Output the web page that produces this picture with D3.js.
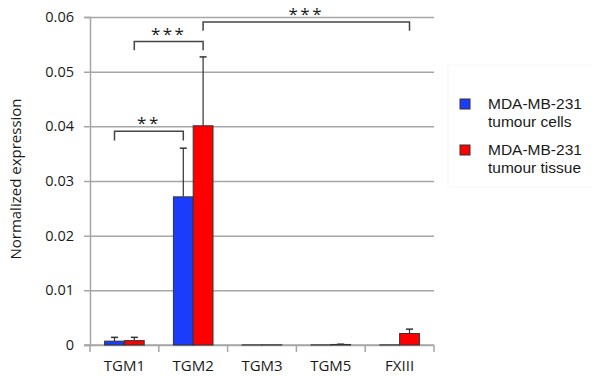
<!DOCTYPE html>
<html>
<head>
<meta charset="utf-8">
<script src="https://cdn.jsdelivr.net/npm/d3@7"></script>
<style>
  body { margin: 0; background: #fff; }
  text { font-family: "Open Sans", sans-serif; fill: #1a1a1a; }
</style>
</head>
<body>
<svg width="592" height="377"></svg>
<script>
let width = 592;
let height = 377;

// data
let categories = ['TGM1', 'TGM2', 'TGM3', 'TGM5', 'FXIII'];
let seriesNames = ['MDA-MB-231\ntumour cells', 'MDA-MB-231\ntumour tissue'];
let seriesColors = ['#1c3cfb', '#ff0000'];
let cellsMean = [0.0007, 0.0271, 0.00002, 0.00002, 0.00002];
let cellsErr = [0.0007, 0.0089, 0, 0, 0];
let tissueMean = [0.0008, 0.0401, 0.00003, 0.0001, 0.0021];
let tissueErr = [0.0006, 0.0126, 0, 0.00005, 0.0008];
let yTicks = [0, 0.01, 0.02, 0.03, 0.04, 0.05, 0.06];

// significance brackets: [category, series] -> [category, series], bracket level, leg bottom
let sigFrom = [[0, 0], [0, 1], [1, 1]];
let sigTo = [[1, 0], [1, 1], [4, 1]];
let sigTop = [0.0391, 0.0555, 0.0591];
let sigLeg = [0.0374, 0.0539, 0.0575];
let sigLabel = ['**', '***', '***'];

let margin = {left: 90, right: 158, top: 17, bottom: 32};

let svg = d3.select('svg');

let x = d3.scaleBand()
  .domain(categories)
  .range([margin.left, width - margin.right])
  .paddingInner(0)
  .paddingOuter(0);

let bw = 19.8;
let y = d3.scaleLinear()
  .domain([0, 0.06])
  .range([height - margin.bottom, margin.top]);

// grid + y axis
svg.append('g')
  .attr('transform', `translate(${margin.left},0)`)
  .call(d3.axisLeft(y).tickValues(yTicks).tickSize(6).tickFormat(d => d === 0 ? '0' : d3.format('.2f')(d)))
  .call(g => g.select('.domain').attr('stroke', '#a6a6a6').attr('stroke-width', 1.5))
  .call(g => g.selectAll('.tick line').attr('stroke', '#a6a6a6').attr('stroke-width', 1.5)
    .attr('x2', -6).attr('x1', width - margin.right - margin.left))
  .call(g => g.selectAll('.tick text').attr('x', -16).attr('font-size', 14.5)
    .style('font-family', '"Open Sans", sans-serif').attr('fill', '#1a1a1a'));

// x axis
svg.append('g')
  .attr('transform', `translate(0,${y(0)})`)
  .call(d3.axisBottom(x).tickSize(0).tickPadding(15))
  .call(g => g.select('.domain').remove())
  .call(g => g.selectAll('.tick text').attr('font-size', 15)
    .style('font-family', '"Open Sans", sans-serif').attr('fill', '#1a1a1a'));

svg.append('g')
  .selectAll('line')
  .data(categories.map(c => x(c)).concat([x.range()[1]]))
  .enter()
    .append('line')
    .attr('stroke', '#a6a6a6')
    .attr('stroke-width', 1.5)
    .attr('x1', d => d).attr('x2', d => d)
    .attr('y1', y(0)).attr('y2', y(0) + 7);

svg.append('line')
  .attr('stroke', '#a6a6a6')
  .attr('stroke-width', 1.5)
  .attr('x1', margin.left - 6).attr('x2', width - margin.right)
  .attr('y1', y(0)).attr('y2', y(0));

let means = [cellsMean, tissueMean];
let errs = [cellsErr, tissueErr];
let barX = (i, s) => x(categories[i]) + x.bandwidth() / 2 - bw + s * bw;

// error bars (upper only)
means.forEach((m, s) => {
  let g = svg.append('g');
  let pts = m.map((v, i) => ({i, v, e: errs[s][i]})).filter(d => d.e > 0);
  g.selectAll('line.err')
    .data(pts)
    .enter()
      .append('line')
      .attr('stroke', '#333')
      .attr('stroke-width', 1.2)
      .attr('x1', d => barX(d.i, s) + bw / 2).attr('x2', d => barX(d.i, s) + bw / 2)
      .attr('y1', d => y(d.v)).attr('y2', d => y(d.v + d.e));
  g.selectAll('line.cap')
    .data(pts)
    .enter()
      .append('line')
      .attr('stroke', '#333')
      .attr('stroke-width', 1.5)
      .attr('x1', d => barX(d.i, s) + bw / 2 - 3.5).attr('x2', d => barX(d.i, s) + bw / 2 + 3.5)
      .attr('y1', d => y(d.v + d.e)).attr('y2', d => y(d.v + d.e));
});

// bars
means.forEach((m, s) => {
  svg.append('g')
    .selectAll('rect')
    .data(m)
    .enter()
      .append('rect')
      .attr('fill', seriesColors[s])
      .attr('stroke', '#333')
      .attr('stroke-width', 1)
      .attr('x', (d, i) => barX(i, s))
      .attr('y', d => y(d))
      .attr('width', bw)
      .attr('height', d => y(0) - y(d));
});

// significance brackets
sigLabel.forEach((lab, k) => {
  let x1 = barX(sigFrom[k][0], sigFrom[k][1]) + bw / 2;
  let x2 = barX(sigTo[k][0], sigTo[k][1]) + bw / 2;
  svg.append('path')
    .attr('fill', 'none')
    .attr('stroke', '#444')
    .attr('stroke-width', 1.5)
    .attr('d', `M${x1},${y(sigLeg[k])}V${y(sigTop[k])}H${x2}V${y(sigLeg[k])}`);
  svg.append('text')
    .attr('x', (x1 + x2) / 2)
    .attr('y', y(sigTop[k]) - 2)
    .attr('text-anchor', 'middle')
    .attr('font-size', 17)
    .attr('letter-spacing', 2.5)
    .text(lab);
});

// y label
svg.append('text')
  .attr('transform', `translate(21,${y(0.03) - 2}) rotate(-90)`)
  .attr('text-anchor', 'middle')
  .attr('font-size', 15)
  .text('Normalized expression');

// legend
svg.append('rect')
  .attr('x', 448).attr('y', 65)
  .attr('width', 150).attr('height', 122)
  .attr('fill', 'none')
  .attr('stroke', '#f7f7f7');

let leg = svg.append('g')
  .selectAll('g')
  .data(seriesNames)
  .enter()
    .append('g')
    .attr('transform', (d, i) => `translate(460,${99 + i * 46})`);
leg.append('rect')
  .attr('width', 10).attr('height', 10)
  .attr('fill', (d, i) => seriesColors[i])
  .attr('stroke', '#333');
leg.append('text')
  .style('font-family', '"Liberation Sans", sans-serif')
  .attr('font-size', 15.5)
  .selectAll('tspan')
  .data(d => d.split('\n'))
  .enter()
    .append('tspan')
    .attr('x', 28)
    .attr('y', (d, i) => 10 + i * 18)
    .text(d => d);
</script>
</body>
</html>
